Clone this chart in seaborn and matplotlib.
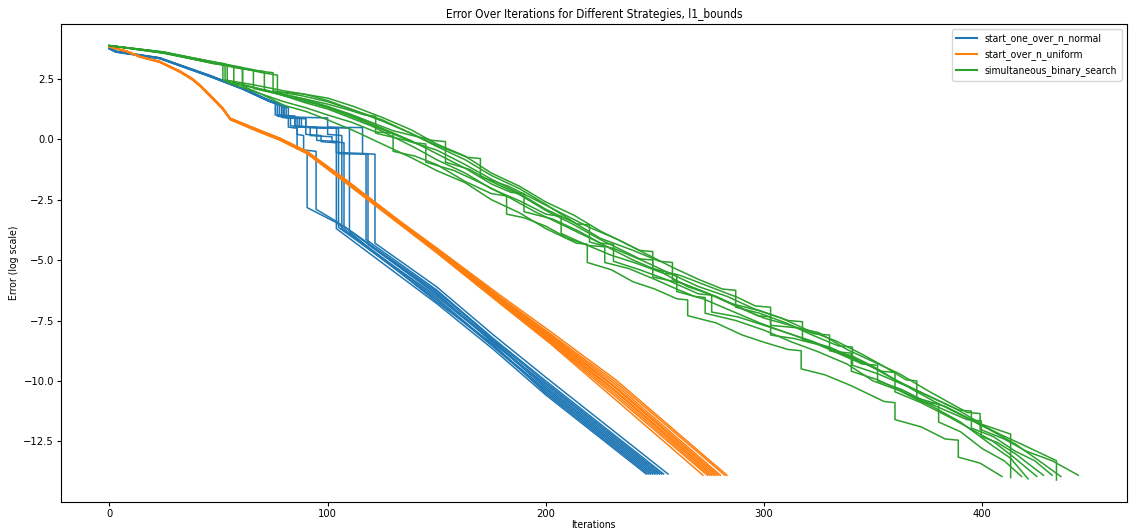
import matplotlib
matplotlib.use('Agg')
import matplotlib.pyplot as plt
import seaborn as sns
import pandas as pd

# strategies and their colours (matplotlib tab10)
strategies = ['start_one_over_n_normal', 'start_over_n_uniform', 'simultaneous_binary_search']
colors = ['#1f77b4', '#ff7f0e', '#2ca02c']

# start_one_over_n_normal runs: (iteration, log error)
normal_runs = [
    [(0, 3.76), (3, 3.63), (23, 3.36), (46, 2.63), (61, 2.10), (73, 1.60), (77, 1.45), (77, 0.95), (82, 0.90), (82, 0.50),
     (86, 0.45), (86, -0.40), (90.6, -0.48), (90.6, -2.83), (104, -3.45), (109, -3.82), (150, -6.58), (176, -8.55), (200, -10.37), (249, -13.85)],
    [(0, 3.74), (3, 3.61), (23, 3.34), (46, 2.60), (61, 2.08), (73, 1.58), (79, 1.40), (79, 0.90), (86, 0.85), (86, 0.20),
     (89, 0.15), (89, -0.45), (94.7, -0.50), (94.7, -2.90), (104, -3.40), (109, -3.72), (150, -6.37), (176, -8.45), (200, -10.15), (252, -13.85)],
    [(0, 3.75), (3, 3.62), (23, 3.35), (46, 2.62), (61, 2.11), (73, 1.62), (80, 1.35), (80, 0.90), (90, 0.85), (90, 0.20),
     (97, 0.15), (97, -0.10), (104, -0.15), (104, -3.70), (150, -6.80), (176, -8.70), (200, -10.58), (246, -13.85)],
    [(0, 3.77), (3, 3.64), (23, 3.37), (46, 2.64), (61, 2.12), (73, 1.61), (78, 1.45), (78, 1.00), (85, 0.95), (85, 0.55),
     (95, 0.50), (95, -0.05), (105, -0.10), (105, -3.65), (150, -6.50), (176, -8.40), (200, -10.30), (250, -13.85)],
    [(0, 3.74), (3, 3.60), (23, 3.33), (46, 2.59), (61, 2.07), (73, 1.57), (81, 1.30), (81, 0.90), (88, 0.85), (88, 0.50),
     (100, 0.45), (100, 0.20), (106.5, 0.15), (106.5, -3.72), (150, -6.65), (176, -8.60), (200, -10.44), (248, -13.85)],
    [(0, 3.76), (3, 3.62), (23, 3.36), (46, 2.61), (61, 2.09), (73, 1.59), (76, 1.50), (76, 1.00), (83, 0.95), (83, 0.55),
     (92, 0.50), (92, 0.15), (102, 0.10), (102, -0.10), (107.5, -0.15), (107.5, -3.60), (150, -6.30), (176, -8.30), (200, -10.08), (253, -13.85)],
    [(0, 3.75), (3, 3.63), (23, 3.34), (46, 2.63), (61, 2.10), (73, 1.60), (80, 1.40), (80, 0.92), (100, 0.88), (100, 0.50),
     (110, 0.45), (110, -3.85), (150, -6.73), (176, -8.50), (200, -10.51), (247, -13.85)],
    [(0, 3.73), (3, 3.61), (23, 3.35), (46, 2.62), (61, 2.11), (73, 1.61), (82, 1.30), (82, 0.90), (90, 0.85), (90, 0.50),
     (105, 0.45), (105, -0.60), (117.6, -0.62), (117.6, -4.15), (150, -6.24), (176, -8.25), (200, -10.00), (254, -13.85)],
    [(0, 3.76), (3, 3.62), (23, 3.36), (46, 2.60), (61, 2.08), (73, 1.58), (79, 1.40), (79, 0.95), (87, 0.90), (87, 0.50),
     (104, 0.45), (104, -0.55), (118.5, -0.60), (118.5, -4.35), (150, -6.43), (176, -8.35), (200, -10.23), (251, -13.85)],
    [(0, 3.75), (3, 3.62), (23, 3.35), (46, 2.61), (61, 2.09), (73, 1.60), (77, 1.50), (77, 1.00), (85, 0.95), (85, 0.50),
     (116, 0.48), (116, -0.60), (121.7, -0.62), (121.7, -4.30), (150, -6.11), (176, -8.10), (200, -9.85), (256, -13.85)],
]

# start_over_n_uniform runs
uniform_runs = [
    [(0, 3.82), (8, 3.62), (14, 3.40), (23, 3.18), (32.5, 2.76), (38, 2.45), (41.6, 2.18), (47.6, 1.63), (52, 1.22), (55.4, 0.80),
     (69, 0.28), (78, -0.04), (90.5, -0.60), (107, -1.72), (133, -3.52), (150, -4.70), (179, -6.80), (202, -8.45), (232, -10.78), (272, -13.90)],
    [(0, 3.82), (8, 3.63), (14, 3.41), (23, 3.19), (32.5, 2.77), (38, 2.46), (41.6, 2.19), (47.6, 1.65), (52, 1.24), (55.4, 0.82),
     (69, 0.30), (78, -0.02), (90.5, -0.58), (107, -1.70), (133, -3.50), (150, -4.68), (179, -6.75), (202, -8.40), (232, -10.65), (274, -13.90)],
    [(0, 3.83), (8, 3.64), (14, 3.42), (23, 3.20), (32.5, 2.78), (38, 2.47), (41.6, 2.20), (47.6, 1.66), (52, 1.25), (55.4, 0.83),
     (69, 0.31), (78, -0.01), (90.5, -0.56), (107, -1.68), (133, -3.48), (150, -4.65), (179, -6.72), (202, -8.35), (232, -10.55), (275, -13.90)],
    [(0, 3.82), (8, 3.62), (14, 3.40), (23, 3.21), (32.5, 2.79), (38, 2.48), (41.6, 2.21), (47.6, 1.67), (52, 1.26), (55.4, 0.84),
     (69, 0.33), (78, 0.01), (90.5, -0.55), (107, -1.66), (133, -3.47), (150, -4.62), (179, -6.70), (202, -8.30), (232, -10.45), (276, -13.90)],
    [(0, 3.83), (8, 3.63), (14, 3.41), (23, 3.20), (32.5, 2.80), (38, 2.49), (41.6, 2.22), (47.6, 1.68), (52, 1.27), (55.4, 0.85),
     (69, 0.34), (78, 0.02), (90.5, -0.54), (107, -1.65), (133, -3.45), (150, -4.60), (179, -6.66), (202, -8.25), (232, -10.40), (277, -13.90)],
    [(0, 3.82), (8, 3.64), (14, 3.42), (23, 3.22), (32.5, 2.79), (38, 2.48), (41.6, 2.20), (47.6, 1.66), (52, 1.26), (55.4, 0.84),
     (69, 0.32), (78, 0.00), (90.5, -0.55), (107, -1.64), (133, -3.44), (150, -4.58), (179, -6.63), (202, -8.20), (232, -10.30), (278, -13.90)],
    [(0, 3.83), (8, 3.62), (14, 3.40), (23, 3.19), (32.5, 2.78), (38, 2.48), (41.6, 2.21), (47.6, 1.67), (52, 1.25), (55.4, 0.82),
     (69, 0.31), (78, 0.01), (90.5, -0.53), (107, -1.63), (133, -3.43), (150, -4.56), (179, -6.60), (202, -8.15), (232, -10.25), (279, -13.90)],
    [(0, 3.82), (8, 3.63), (14, 3.41), (23, 3.21), (32.5, 2.80), (38, 2.50), (41.6, 2.23), (47.6, 1.69), (52, 1.28), (55.4, 0.86),
     (69, 0.35), (78, 0.03), (90.5, -0.52), (107, -1.62), (133, -3.42), (150, -4.55), (179, -6.57), (202, -8.10), (232, -10.15), (280, -13.90)],
    [(0, 3.82), (8, 3.64), (14, 3.42), (23, 3.20), (32.5, 2.81), (38, 2.50), (41.6, 2.22), (47.6, 1.68), (52, 1.27), (55.4, 0.85),
     (69, 0.36), (78, 0.04), (90.5, -0.51), (107, -1.60), (133, -3.40), (150, -4.52), (179, -6.53), (202, -8.05), (232, -10.05), (282, -13.90)],
    [(0, 3.83), (8, 3.63), (14, 3.41), (23, 3.22), (32.5, 2.81), (38, 2.51), (41.6, 2.24), (47.6, 1.70), (52, 1.29), (55.4, 0.87),
     (69, 0.37), (78, 0.05), (90.5, -0.50), (107, -1.58), (133, -3.38), (150, -4.50), (179, -6.45), (202, -7.95), (232, -9.95), (283, -13.90)],
]

# simultaneous_binary_search runs
binary_runs = [
    [(0, 3.87), (22, 3.63), (49, 3.17), (70, 2.75), (77, 2.65), (77, 1.95), (88, 1.88), (100, 1.70), (112, 1.35), (125, 0.90),
     (138, 0.40), (150, -0.20), (163, -0.70), (175, -1.40), (188, -1.95), (200, -2.60), (213, -3.15), (225, -3.80), (243, -4.60),
     (249, -4.65), (249, -5.35), (262, -5.65), (275, -6.10), (288, -6.55), (296, -6.90), (303, -6.95), (303, -7.70), (315, -7.80),
     (325, -8.00), (338, -8.70), (350, -9.20), (362, -9.70), (375, -10.40), (393, -11.30), (399, -11.35), (399, -12.00),
     (410, -12.40), (420, -12.90), (432, -13.30), (444, -13.90)],
    [(0, 3.87), (25, 3.57), (48, 3.12), (54, 3.05), (54, 2.35), (67, 1.95), (80, 1.55), (90, 1.30), (100, 1.00), (111, 0.70),
     (122, 0.30), (130, 0.25), (130, -0.50), (140, -0.70), (150, -1.05), (163, -1.75), (175, -2.25), (182, -2.35), (182, -3.10),
     (190, -3.25), (200, -3.60), (210, -4.10), (220, -4.40), (227, -4.45), (227, -5.10), (238, -5.35), (250, -5.80), (260, -6.20),
     (268, -6.50), (273, -6.55), (273, -7.20), (287, -7.50), (300, -7.90), (313, -8.40), (325, -8.80), (338, -9.30), (350, -10.00),
     (362, -10.40), (373, -10.90), (380, -10.95), (380, -11.70), (390, -12.10), (400, -12.80), (410, -13.30), (418, -13.95)],
    [(0, 3.87), (25, 3.55), (50, 3.10), (61, 2.90), (61, 2.20), (70, 1.85), (80, 1.40), (90, 1.15), (100, 0.80), (112, 0.35),
     (125, -0.20), (138, -0.75), (150, -1.30), (163, -1.80), (175, -2.50), (188, -3.05), (200, -3.70), (214, -4.30), (219, -4.35),
     (219, -5.10), (230, -5.40), (240, -5.90), (250, -6.20), (260, -6.60), (265, -6.65), (265, -7.30), (278, -7.60), (290, -8.10),
     (300, -8.40), (311, -8.70), (317, -8.75), (317, -9.50), (328, -9.75), (340, -10.20), (355, -10.85), (360, -10.90),
     (360, -11.60), (372, -11.90), (383, -12.40), (389, -12.45), (389, -13.15), (399, -13.40), (409, -13.95)],
    [(0, 3.87), (25, 3.58), (49, 3.14), (62, 2.90), (66, 2.85), (66, 2.10), (78, 1.85), (90, 1.55), (100, 1.35), (110, 1.05),
     (120, 0.70), (130, 0.35), (148, -0.05), (154, -0.10), (154, -0.95), (165, -1.25), (175, -1.75), (188, -2.30), (200, -2.95),
     (212, -3.50), (225, -4.15), (243, -4.95), (249, -5.00), (249, -5.70), (262, -5.95), (275, -6.40), (288, -6.95), (300, -7.40),
     (312, -7.70), (323, -8.05), (330, -8.10), (330, -8.75), (340, -8.95), (350, -9.40), (362, -10.05), (375, -10.60),
     (388, -11.15), (400, -11.80), (413, -12.20), (413, -14.00)],
    [(0, 3.87), (25, 3.56), (50, 3.12), (65, 2.85), (71, 2.80), (71, 2.05), (80, 1.80), (90, 1.50), (100, 1.25), (110, 0.90),
     (120, 0.55), (130, 0.10), (140, -0.35), (150, -0.85), (163, -1.40), (175, -2.05), (188, -2.55), (200, -3.10), (207, -3.20),
     (207, -3.90), (218, -4.35), (230, -4.80), (242, -5.15), (254, -5.55), (260, -5.60), (260, -6.30), (272, -6.60), (285, -7.10),
     (298, -7.60), (310, -8.00), (322, -8.35), (334, -8.80), (340, -8.85), (340, -9.60), (352, -9.95), (365, -10.50),
     (378, -11.10), (390, -11.70), (405, -12.70), (413, -13.20), (421, -14.05)],
    [(0, 3.87), (25, 3.57), (47, 3.15), (52, 3.10), (52, 2.45), (66, 2.15), (80, 1.80), (90, 1.60), (100, 1.30), (112, 0.90),
     (125, 0.40), (140, -0.15), (145, -0.20), (145, -0.95), (158, -1.30), (170, -1.80), (183, -2.40), (195, -3.00), (210, -3.65),
     (225, -4.30), (231, -4.35), (231, -5.05), (243, -5.40), (255, -5.80), (270, -6.40), (276, -6.45), (276, -7.15), (288, -7.35),
     (300, -7.70), (312, -8.05), (325, -8.50), (340, -9.05), (354, -9.60), (360, -9.65), (360, -10.45), (372, -10.90),
     (385, -11.50), (395, -12.00), (405, -12.50), (415, -13.20), (425, -13.95)],
    [(0, 3.87), (25, 3.58), (49, 3.14), (57, 3.00), (57, 2.30), (68, 2.10), (80, 1.85), (90, 1.65), (100, 1.35), (112, 0.95),
     (125, 0.45), (138, -0.05), (150, -0.60), (163, -1.20), (175, -1.85), (184, -2.20), (190, -2.25), (190, -3.00), (203, -3.30),
     (215, -3.80), (228, -4.45), (240, -5.00), (253, -5.50), (265, -6.10), (278, -6.50), (290, -7.00), (297, -7.30), (303, -7.35),
     (303, -8.10), (314, -8.25), (325, -8.50), (335, -8.90), (345, -9.30), (352, -9.35), (352, -10.00), (363, -10.35),
     (375, -10.90), (393, -11.60), (399.5, -11.65), (399.5, -12.30), (407, -12.55), (415, -13.00), (428, -13.90)],
    [(0, 3.87), (25, 3.59), (49, 3.15), (61, 2.95), (61, 2.25), (72, 2.00), (85, 1.75), (100, 1.45), (110, 1.20), (117, 1.00),
     (122, 0.95), (122, 0.25), (136, -0.05), (150, -0.45), (163, -1.05), (175, -1.65), (188, -2.25), (200, -2.90), (213, -3.45),
     (225, -4.10), (240, -4.60), (252, -5.05), (258, -5.10), (258, -5.80), (272, -6.30), (285, -6.80), (298, -7.10), (311, -7.50),
     (317.6, -7.55), (317.6, -8.30), (330, -8.60), (345, -9.20), (358, -9.85), (370, -10.40), (389, -11.20), (395, -11.25),
     (395, -11.95), (405, -12.30), (415, -12.90), (424, -13.30), (432, -13.90)],
    [(0, 3.87), (25, 3.60), (50, 3.16), (70, 2.80), (75, 2.75), (75, 2.00), (88, 1.80), (100, 1.55), (112, 1.20), (125, 0.80),
     (138, 0.25), (150, -0.30), (163, -0.85), (175, -1.50), (188, -2.05), (200, -2.70), (214, -3.50), (220, -3.55), (220, -4.25),
     (232, -4.55), (245, -5.05), (258, -5.60), (270, -6.10), (283, -6.50), (295, -7.00), (308, -7.40), (320, -7.90), (333, -8.35),
     (345, -8.90), (355, -9.40), (365, -9.95), (370, -10.00), (370, -10.70), (383, -11.05), (395, -11.60), (408, -12.20),
     (420, -12.70), (434, -13.30), (434, -14.10)],
    [(0, 3.87), (25, 3.61), (48, 3.17), (53, 3.12), (53, 2.45), (66, 2.25), (80, 2.00), (90, 1.85), (100, 1.60), (112, 1.20),
     (125, 0.75), (138, 0.25), (150, -0.25), (164, -0.75), (170, -0.80), (170, -1.55), (183, -1.95), (195, -2.50), (208, -3.10),
     (220, -3.65), (233, -4.15), (245, -4.70), (258, -5.30), (270, -5.80), (281, -6.20), (287, -6.25), (287, -6.95), (298, -7.20),
     (310, -7.60), (322, -8.10), (334, -8.55), (340.5, -8.60), (340.5, -9.35), (352, -9.70), (365, -10.20), (378, -10.85),
     (390, -11.40), (403, -12.00), (415, -12.60), (426, -13.30), (436, -13.95)],
]

# long-form table, one row per point, keeping point order inside each run
rows = []
for name, runs in zip(strategies, [normal_runs, uniform_runs, binary_runs]):
    for i, run in enumerate(runs):
        for x, y in run:
            rows.append({'Iterations': x, 'Error': y, 'strategy': name, 'run': f'{name}_{i}'})
df = pd.DataFrame(rows)

plt.rcParams['font.family'] = ['DejaVu Sans']
plt.rcParams['font.stretch'] = 'condensed'

fig, ax = plt.subplots(figsize=(11.29, 5.31), dpi=100)
sns.lineplot(data=df, x='Iterations', y='Error', hue='strategy', hue_order=strategies,
             units='run', estimator=None, sort=False, palette=colors, linewidth=1.1, ax=ax)

ax.set_title('Error Over Iterations for Different Strategies, l1_bounds', fontsize=8.5, pad=4)
ax.set_xlabel('Iterations', fontsize=7.5, labelpad=1)
ax.set_ylabel('Error (log scale)', fontsize=7.5, labelpad=3)
ax.tick_params(labelsize=8, length=3, pad=2)
sns.move_legend(ax, 'upper right', title=None, fontsize=7.5)
for line in ax.get_legend().get_lines():
    line.set_linewidth(1.5)

fig.subplots_adjust(left=0.054, right=0.998, top=0.955, bottom=0.055)
plt.savefig('out.png', dpi=100)
